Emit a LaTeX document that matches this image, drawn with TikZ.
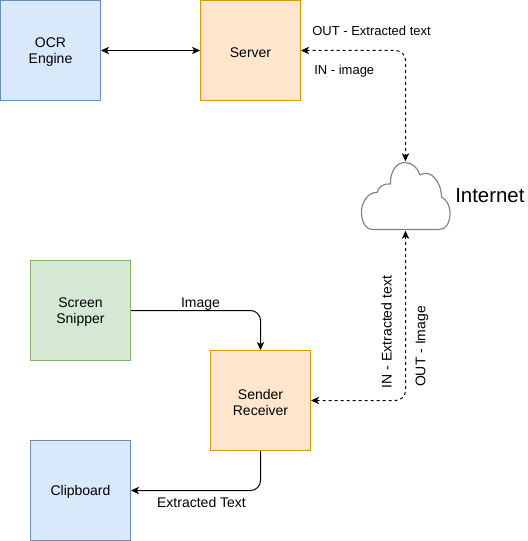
\documentclass[tikz,border=0pt]{standalone}
\usepackage{fontspec}
\setmainfont{Liberation Sans}
\usetikzlibrary{arrows.meta}
\definecolor{bluefill}{HTML}{DAE8FC}
\definecolor{bluedraw}{HTML}{6C8EBF}
\definecolor{orangefill}{HTML}{FFE6CC}
\definecolor{orangedraw}{HTML}{D79B00}
\definecolor{greenfill}{HTML}{D5E8D4}
\definecolor{greendraw}{HTML}{82B366}
\tikzset{
  x=0.75pt,y=-0.75pt,
  boxtext/.style={align=center,font=\fontsize{10.5}{12}\selectfont,text=black,inner sep=0pt,yshift=-1.3pt},
  box/.style={draw,line width=0.75pt,minimum width=75pt,minimum height=75pt,inner sep=0pt},
  bluebox/.style={box,fill=bluefill,draw=bluedraw},
  orangebox/.style={box,fill=orangefill,draw=orangedraw},
  greenbox/.style={box,fill=greenfill,draw=greendraw},
  tip/.style={-{Stealth[length=6pt,width=5.5pt,inset=1.6pt]}},
  bitip/.style={{Stealth[length=6pt,width=5.5pt,inset=1.6pt]}-{Stealth[length=6pt,width=5.5pt,inset=1.6pt]}},
  conn/.style={line width=0.75pt,rounded corners=7.5pt},
  dashconn/.style={conn,dash pattern=on 2.25pt off 2.25pt},
  lab/.style={font=\fontsize{10.5}{12}\selectfont,text=black,inner sep=0pt},
  smalllab/.style={font=\fontsize{9.75}{12}\selectfont,text=black,inner sep=0pt},
}
\begin{document}
\begin{tikzpicture}
\useasboundingbox (0,0) rectangle (527,541);
\node[bluebox,label={[boxtext]center:OCR\\Engine}] (ocr) at (50.5,50.5) {};
\node[orangebox,label={[boxtext]center:Server}] (server) at (250.5,50.5) {};
\node[greenbox,label={[boxtext]center:Screen\\Snipper}] (snipper) at (80.5,310.5) {};
\node[orangebox,label={[boxtext]center:Sender\\Receiver}] (sender) at (260.5,400.5) {};
\node[bluebox,label={[boxtext]center:Clipboard}] (clip) at (80.5,490.5) {};
\node[minimum width=66.75pt,minimum height=51.75pt,inner sep=0pt] (cloud) at (405.5,196) {};
\draw[line width=0.85pt,draw=black!50,fill=white,line join=round]
  (373,229.5) .. controls (365,229.5) and (361.5,221) .. (361.5,212)
  .. controls (361.5,201) and (369,192) .. (377,192.5)
  .. controls (378,187) and (384,183) .. (390.5,184)
  .. controls (390,172) and (396,162.5) .. (405,162.5)
  .. controls (412,162.5) and (418,168) .. (420,175)
  .. controls (430,169) and (441,180) .. (441.5,197)
  .. controls (447,200) and (450,206) .. (450,213)
  .. controls (450,223) and (446,229.5) .. (439,229.5)
  -- cycle;
\node[lab,anchor=west,font=\fontsize{15.3}{18}\selectfont] (net) at (455,196) {Internet};
\draw[conn,bitip] (ocr.east) -- (server.west);
\draw[dashconn,bitip] (server.east) -| (cloud.north);
\draw[dashconn,bitip] (sender.east) -| (cloud.south);
\draw[conn,tip] (snipper.east) -| (sender.north);
\draw[conn,tip] (sender.south) |- (clip.east);
\node[smalllab,anchor=west] (l1) at (312,30.5) {OUT - Extracted text};
\node[smalllab,anchor=west] (l2) at (314,71) {IN - image};
\node[lab] (l3) at (200.5,304) {Image};
\node[lab] (l4) at (201.5,502) {Extracted Text};
\node[lab,rotate=90] (l5) at (386.5,332) {IN - Extracted text};
\node[lab,rotate=90] (l6) at (422,346.5) {OUT - Image};
\end{tikzpicture}
\end{document}
